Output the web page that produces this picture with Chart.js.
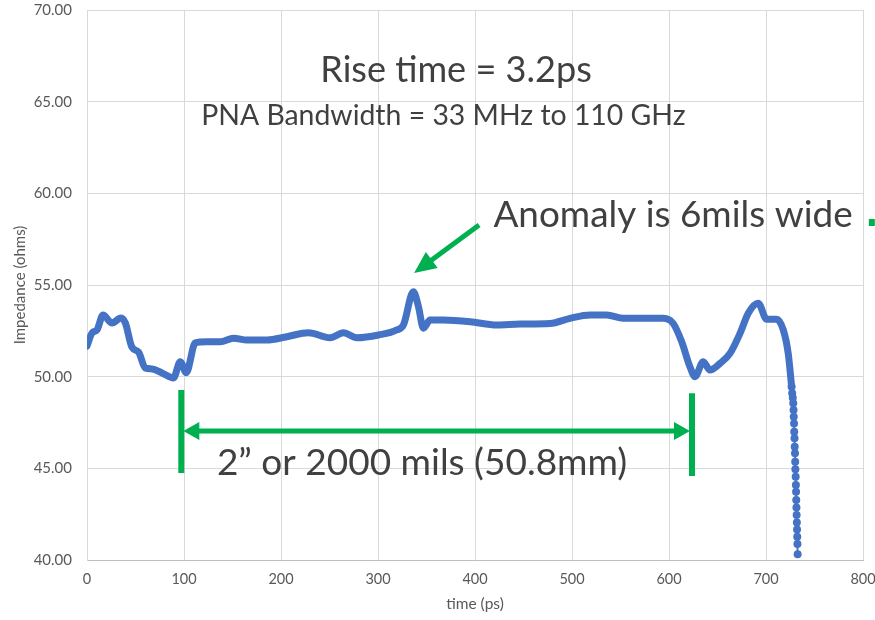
<!DOCTYPE html>
<html>
<head>
<meta charset="utf-8">
<script src="https://cdn.jsdelivr.net/npm/chart.js@4/dist/chart.umd.min.js"></script>
<style>
  html, body { margin: 0; padding: 0; background: #fff; }
  #wrap { width: 875px; height: 620px; }
</style>
</head>
<body>
<div id="wrap"><canvas id="tdr"></canvas></div>
<script>
// time (ps) and impedance (ohms)
const timePs = [0, 5.2, 10.3, 16.5, 25.8, 35, 39.5, 46.4, 53.2, 60, 67, 77.3, 89.2, 96.1, 102.3,
  111.6, 123.6, 137.4, 151, 164.9, 185.5, 206, 228.3, 250.7, 264.4, 278.2, 300.5, 319.4, 326.2,
  336.5, 341.7, 346.8, 353.7, 367.4, 395, 422.5, 446.5, 477.4, 498, 518.6, 535.8, 552.9, 594.1,
  604.4, 613.1, 621.6, 626.8, 635.3, 642.2, 652.5, 662.9, 673.2, 681.7, 692, 700.7, 711, 717.8,
  722.9, 726.4, 727.0, 727.6, 728.1, 728.4, 728.6, 728.9, 729.1, 729.4, 729.6, 729.9, 730.1,
  730.3, 730.6, 730.8, 731.0, 731.2, 731.4, 731.6, 731.8, 732.0, 732.2, 732.4, 732.6];
const impedance = [51.67, 52.38, 52.55, 53.36, 52.93, 53.2, 52.93, 51.6, 51.34, 50.47, 50.42, 50.2,
  49.93, 50.82, 50.22, 51.84, 51.9, 51.9, 52.1, 52.0, 52.0, 52.18, 52.4, 52.12, 52.4, 52.12, 52.27,
  52.55, 52.82, 54.63, 53.82, 52.64, 53.09, 53.09, 53.0, 52.82, 52.87, 52.9, 53.18, 53.36, 53.36,
  53.18, 53.18, 52.9, 51.9, 50.54, 50.0, 50.82, 50.36, 50.72, 51.27, 52.36, 53.46, 54.0, 53.13,
  53.13, 52.55, 51.27, 49.45, 49.1, 48.85, 48.55, 48.18, 47.82, 47.45, 47.0, 46.64, 46.18, 45.82,
  45.36, 44.95, 44.54, 44.09, 43.72, 43.27, 42.87, 42.45, 42.05, 41.67, 41.27, 40.87, 40.32];
const fallStart = 58; // from here the markers show as separate dots

const xTicks = [0, 100, 200, 300, 400, 500, 600, 700, 800];
const yTicks = [40, 45, 50, 55, 60, 65, 70];

const points = timePs.map((t, i) => ({ x: t, y: impedance[i] }));

const BLUE = '#4472C4';
const GREEN = '#00B050';
const TEXT = '#404040';
const FONT = 'Lato, "Noto Sans", sans-serif';

// text drawn so that it spans a given width
function fitText(ctx, text, x, y, width, align) {
  ctx.font = '100px ' + FONT;
  const size = 100 * width / ctx.measureText(text).width;
  ctx.font = size.toFixed(1) + 'px ' + FONT;
  ctx.textAlign = align;
  ctx.textBaseline = 'alphabetic';
  ctx.fillText(text, x, y);
}

function arrowHead(ctx, x1, y1, x2, y2, len, half) {
  const a = Math.atan2(y2 - y1, x2 - x1);
  ctx.beginPath();
  ctx.moveTo(x2, y2);
  ctx.lineTo(x2 - len * Math.cos(a) + half * Math.sin(a), y2 - len * Math.sin(a) - half * Math.cos(a));
  ctx.lineTo(x2 - len * Math.cos(a) - half * Math.sin(a), y2 - len * Math.sin(a) + half * Math.cos(a));
  ctx.closePath();
  ctx.fill();
}

const notes = {
  id: 'notes',
  afterDraw(chart) {
    const { ctx, scales: { x, y } } = chart;
    ctx.save();
    ctx.fillStyle = TEXT;
    fitText(ctx, 'Rise time = 3.2ps', x.getPixelForValue(240.5), y.getPixelForValue(66.07), 272, 'left');
    fitText(ctx, 'PNA Bandwidth = 33 MHz to 110 GHz', x.getPixelForValue(117.7), y.getPixelForValue(63.73), 485, 'left');
    fitText(ctx, 'Anomaly is 6mils wide', x.getPixelForValue(419), y.getPixelForValue(58.19), 359, 'left');
    fitText(ctx, '2\u201D or 2000 mils (50.8mm)', x.getPixelForValue(133.9), y.getPixelForValue(44.63), 410, 'left');

    ctx.strokeStyle = GREEN;
    ctx.fillStyle = GREEN;
    ctx.lineCap = 'butt';

    // anomaly pointer
    const ax1 = x.getPixelForValue(404.2), ay1 = y.getPixelForValue(58.27);
    const ax2 = x.getPixelForValue(337.2), ay2 = y.getPixelForValue(55.65);
    const ang = Math.atan2(ay2 - ay1, ax2 - ax1);
    ctx.lineWidth = 5;
    ctx.beginPath();
    ctx.moveTo(ax1, ay1);
    ctx.lineTo(ax2 - 16 * Math.cos(ang), ay2 - 16 * Math.sin(ang));
    ctx.stroke();
    arrowHead(ctx, ax1, ay1, ax2, ay2, 22, 10);

    // 2000 mils span
    const lx = x.getPixelForValue(97.2), rx = x.getPixelForValue(623.7);
    const my = y.getPixelForValue(47.03);
    ctx.lineWidth = 6;
    ctx.beginPath();
    ctx.moveTo(lx, y.getPixelForValue(49.27));
    ctx.lineTo(lx, y.getPixelForValue(44.74));
    ctx.moveTo(rx, y.getPixelForValue(49.1));
    ctx.lineTo(rx, y.getPixelForValue(44.58));
    ctx.stroke();
    ctx.lineWidth = 5;
    ctx.beginPath();
    ctx.moveTo(lx + 12, my);
    ctx.lineTo(rx - 12, my);
    ctx.stroke();
    arrowHead(ctx, rx, my, lx + 2, my, 16, 9);
    arrowHead(ctx, lx, my, rx - 2, my, 16, 9);

    // clipped mark at the right edge
    ctx.fillRect(x.getPixelForValue(806), y.getPixelForValue(58.6), 6, 7);
    ctx.restore();
  }
};

new Chart(document.getElementById('tdr'), {
  type: 'scatter',
  data: {
    datasets: [{
      label: 'Impedance',
      data: points,
      showLine: true,
      borderColor: BLUE,
      backgroundColor: BLUE,
      borderWidth: 7,
      borderCapStyle: 'round',
      borderJoinStyle: 'round',
      cubicInterpolationMode: 'monotone',
      pointRadius: ctx => ctx.dataIndex >= fallStart ? 4 : 0,
      pointBorderWidth: 0,
      segment: {
        borderWidth: ctx => ctx.p0DataIndex >= fallStart ? 2 : 7
      }
    }]
  },
  options: {
    responsive: true,
    maintainAspectRatio: false,
    animation: false,
    layout: { padding: { left: 0, right: 12, top: 10, bottom: 0 } },
    plugins: { legend: { display: false }, tooltip: { enabled: false } },
    scales: {
      x: {
        type: 'linear',
        min: 0, max: 800,
        afterBuildTicks: s => { s.ticks = xTicks.map(v => ({ value: v })); },
        afterFit: s => { s.height = 60; s.paddingLeft = 0; s.paddingRight = 0; },
        grid: { color: '#d9d9d9', drawTicks: false },
        border: { color: '#bfbfbf', width: 1 },
        ticks: { color: '#595959', padding: 11, font: { family: FONT, size: 14.5 }, maxRotation: 0 },
        title: { display: true, text: 'time (ps)', color: '#595959', padding: { top: 0, bottom: 7 }, font: { family: FONT, size: 15.5 } }
      },
      y: {
        min: 40, max: 70,
        afterBuildTicks: s => { s.ticks = yTicks.map(v => ({ value: v })); },
        afterFit: s => { s.width = 87; s.paddingTop = 0; s.paddingBottom = 0; },
        grid: { color: '#d9d9d9', drawTicks: false },
        border: { color: '#d9d9d9', width: 1 },
        ticks: { color: '#595959', padding: 15, font: { family: FONT, size: 15 }, callback: v => v.toFixed(2) },
        title: { display: true, text: 'Impedance (ohms)', color: '#595959', padding: { top: 11, bottom: 0 }, font: { family: FONT, size: 15 } }
      }
    }
  },
  plugins: [notes]
});
</script>
</body>
</html>
